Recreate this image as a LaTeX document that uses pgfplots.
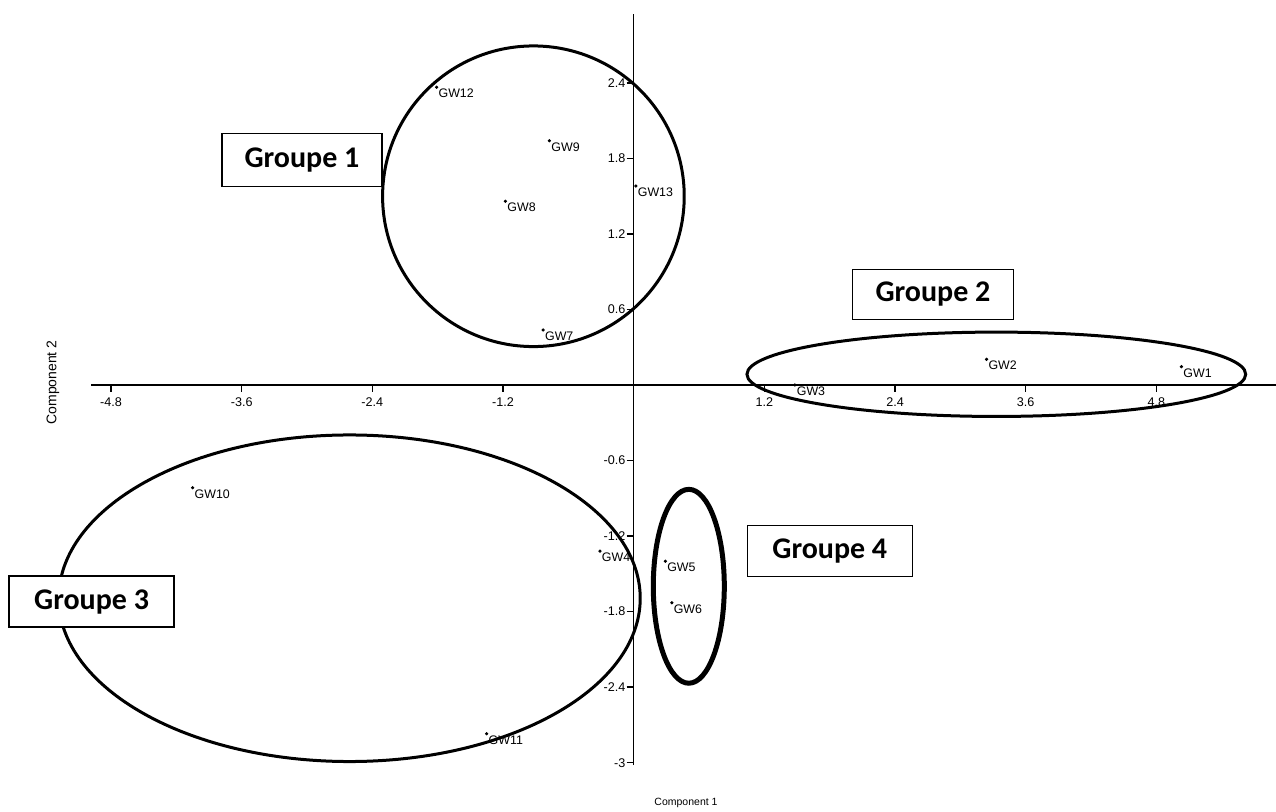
\documentclass[border=0pt]{standalone}
\usepackage{pgfplots}
\pgfplotsset{compat=1.18}
\usepackage{fontspec}
\setmainfont{Liberation Sans}
\newfontfamily\carlito{Carlito}

\pgfplotstableread{
x y label
5.03 0.145 GW1
3.24 0.204 GW2
1.48 0.0 GW3
-0.31 -1.32 GW4
0.29 -1.40 GW5
0.35 -1.73 GW6
-0.832 0.437 GW7
-1.178 1.459 GW8
-0.774 1.94 GW9
-4.05 -0.816 GW10
-1.35 -2.77 GW11
-1.81 2.365 GW12
0.02 1.58 GW13
}\pts

\begin{document}
\begin{tikzpicture}[x=1pt,y=1pt]
\useasboundingbox (0,0) rectangle (638,406);
\begin{axis}[
  at={(45.7pt,23.4pt)}, anchor=south west,
  scale only axis, width=592.4pt, height=375.8pt,
  xmin=-4.98, xmax=5.9, ymin=-3.02, ymax=2.95,
  axis lines=middle,
  axis line style={-, line width=0.75pt, black},
  clip=false,
  tick align=outside,
  major tick length=3.5pt,
  tick style={line width=0.75pt, black},
  xtick={-4.8,-3.6,-2.4,-1.2,1.2,2.4,3.6,4.8},
  xticklabels={-4.8,-3.6,-2.4,-1.2,1.2,2.4,3.6,4.8},
  ytick={-3,-2.4,-1.8,-1.2,-0.6,0.6,1.2,1.8,2.4},
  yticklabels={-3,-2.4,-1.8,-1.2,-0.6,0.6,1.2,1.8,2.4},
  xticklabel style={font=\fontsize{6.3}{7}\selectfont, inner sep=2.8pt},
  yticklabel style={font=\fontsize{6.3}{7}\selectfont, inner sep=0.5pt},
]
\addplot[only marks, mark=*, mark size=0.6pt, black,
  nodes near coords, point meta=explicit symbolic,
  every node near coord/.style={anchor=north west, inner sep=0.8pt,
    font=\fontsize{6.2}{7}\selectfont, black}]
  table[x=x, y=y, meta=label] {\pts};
\draw[line width=1.5pt] (axis cs:-0.921,1.499) ellipse [x radius=1.385, y radius=1.194];
\draw[line width=1.5pt] (axis cs:3.33,0.085) ellipse [x radius=2.29, y radius=0.335];
\draw[line width=1.5pt] (axis cs:-2.61,-1.694) ellipse [x radius=2.67, y radius=1.297];
\draw[line width=2.5pt] (axis cs:0.506,-1.599) ellipse [x radius=0.326, y radius=0.77];
\end{axis}
\tikzset{grp/.style={draw, fill=white, line width=0.75pt, inner sep=0pt,
  font=\carlito\bfseries\fontsize{15}{18}\selectfont}}
\node[grp, minimum width=80pt, minimum height=26.5pt] at (151,326) {Groupe 1};
\node[grp, minimum width=80.3pt, minimum height=25pt] at (466.5,258.85) {Groupe 2};
\node[grp, minimum width=82.4pt, minimum height=25.6pt] at (45.8,105.2) {Groupe 3};
\node[grp, minimum width=82.5pt, minimum height=25.5pt] at (414.9,130.4) {Groupe 4};
\node[rotate=90, font=\fontsize{7}{8}\selectfont] at (26.5,214.75) {Component 2};
\node[font=\fontsize{5.25}{6}\selectfont] at (343,4.5) {Component 1};
\end{tikzpicture}
\end{document}
